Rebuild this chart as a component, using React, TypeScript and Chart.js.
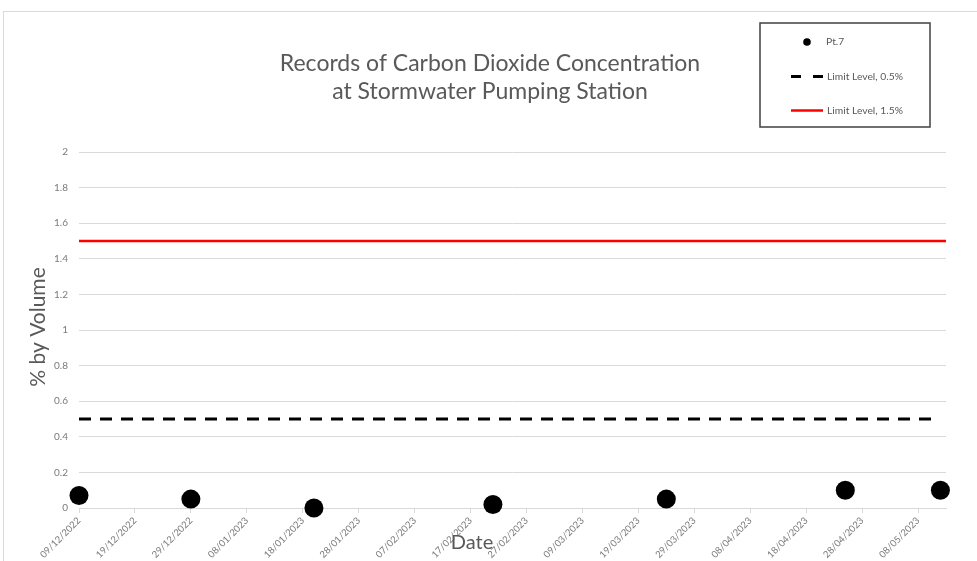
import { useEffect, useRef } from "react";
import { Chart, registerables } from "chart.js";

Chart.register(...registerables);

// ---------- data ----------
const axisStartDate = "09/12/2022";
const axisEndDate = "13/05/2023";
const tickStepDays = 10;

const pt7Dates = ["09/12/2022", "29/12/2022", "20/01/2023", "21/02/2023", "24/03/2023", "25/04/2023", "12/05/2023"];
const pt7Values = [0.07, 0.05, 0, 0.02, 0.05, 0.1, 0.1];

const limit05Dates = ["09/12/2022", "11/05/2023"];
const limit05Values = [0.5, 0.5];

const limit15Dates = ["09/12/2022", "13/05/2023"];
const limit15Values = [1.5, 1.5];

const yMin = 0;
const yMax = 2;
const yStep = 0.2;

const titleLines = ["Records of Carbon Dioxide Concentration", "at Stormwater Pumping Station"];
const yTitle = "% by Volume";
const xTitle = "Date";
const seriesLabels = ["Pt.7", "Limit Level, 0.5%", "Limit Level, 1.5%"];

// ---------- helpers ----------
const DAY = 86400000;
function parseDate(s: string): number {
  const [d, m, y] = s.split("/").map(Number);
  return Date.UTC(y, m - 1, d);
}
const base = parseDate(axisStartDate);
function toDay(s: string): number {
  return Math.round((parseDate(s) - base) / DAY);
}
function fmtDay(n: number): string {
  const dt = new Date(base + n * DAY);
  const dd = String(dt.getUTCDate()).padStart(2, "0");
  const mm = String(dt.getUTCMonth() + 1).padStart(2, "0");
  return `${dd}/${mm}/${dt.getUTCFullYear()}`;
}

const FONT = "Lato, 'Open Sans', sans-serif";
const TEXT = "#595959";

// canvas origin is at page (4,12)
const OX = 4;
const OY = 12;

const overlayPlugin = {
  id: "overlay",
  afterDraw(chart: any) {
    const ctx = chart.ctx as CanvasRenderingContext2D;
    ctx.save();
    // title
    ctx.fillStyle = TEXT;
    ctx.font = `23px ${FONT}`;
    ctx.textAlign = "center";
    ctx.textBaseline = "middle";
    ctx.fillText(titleLines[0], 490 - OX, 64 - OY);
    ctx.fillText(titleLines[1], 490 - OX, 92 - OY);

    // y title
    ctx.save();
    ctx.translate(38 - OX, 327 - OY);
    ctx.rotate(-Math.PI / 2);
    ctx.font = `21px ${FONT}`;
    ctx.fillText(yTitle, 0, 0);
    ctx.restore();

    // x title
    ctx.font = `20px ${FONT}`;
    ctx.fillText(xTitle, 472 - OX, 543 - OY);

    // legend box
    const bx = 760 - OX, by = 23 - OY, bw = 170, bh = 104;
    ctx.fillStyle = "#ffffff";
    ctx.fillRect(bx, by, bw, bh);
    ctx.strokeStyle = "#404040";
    ctx.lineWidth = 1.5;
    ctx.strokeRect(bx, by, bw, bh);

    ctx.font = `10.3px ${FONT}`;
    ctx.textAlign = "left";
    ctx.fillStyle = TEXT;

    // Pt.7
    ctx.beginPath();
    ctx.fillStyle = "#000000";
    ctx.arc(807 - OX, 42 - OY, 3.8, 0, Math.PI * 2);
    ctx.fill();
    ctx.fillStyle = TEXT;
    ctx.fillText(seriesLabels[0], 826 - OX, 42 - OY);

    // dashed
    ctx.strokeStyle = "#000000";
    ctx.lineWidth = 3;
    ctx.beginPath();
    ctx.moveTo(791 - OX, 76.5 - OY);
    ctx.lineTo(801 - OX, 76.5 - OY);
    ctx.moveTo(813 - OX, 76.5 - OY);
    ctx.lineTo(823 - OX, 76.5 - OY);
    ctx.stroke();
    ctx.fillText(seriesLabels[1], 827 - OX, 76.5 - OY);

    // red
    ctx.strokeStyle = "#ff0000";
    ctx.lineWidth = 2.5;
    ctx.beginPath();
    ctx.moveTo(791 - OX, 110.5 - OY);
    ctx.lineTo(823 - OX, 110.5 - OY);
    ctx.stroke();
    ctx.fillText(seriesLabels[2], 827 - OX, 110.5 - OY);

    ctx.restore();
  },
};

export default function App() {
  const ref = useRef<HTMLCanvasElement>(null);

  useEffect(() => {
    if (!ref.current) return;
    const chart = new Chart(ref.current, {
      type: "scatter",
      data: {
        datasets: [
          {
            label: seriesLabels[0],
            data: pt7Dates.map((d, i) => ({ x: toDay(d), y: pt7Values[i] })),
            backgroundColor: "#000000",
            borderWidth: 0,
            pointRadius: 9.5,
            showLine: false,
            clip: false as any,
          },
          {
            label: seriesLabels[1],
            data: limit05Dates.map((d, i) => ({ x: toDay(d), y: limit05Values[i] })),
            showLine: true,
            borderColor: "#000000",
            borderWidth: 3,
            borderDash: [12, 9],
            borderCapStyle: "butt",
            pointRadius: 0,
          },
          {
            label: seriesLabels[2],
            data: limit15Dates.map((d, i) => ({ x: toDay(d), y: limit15Values[i] })),
            showLine: true,
            borderColor: "#ff0000",
            borderWidth: 2.5,
            pointRadius: 0,
          },
        ],
      },
      options: {
        animation: false,
        responsive: true,
        maintainAspectRatio: false,
        layout: { padding: { left: 0, top: 140, right: 48, bottom: 0 } },
        plugins: {
          legend: { display: false },
          title: { display: false },
          tooltip: { enabled: false },
        },
        scales: {
          x: {
            type: "linear",
            min: 0,
            max: toDay(axisEndDate),
            afterFit: (s: any) => {
              s.height = 74;
            },
            ticks: {
              stepSize: tickStepDays,
              includeBounds: false,
              autoSkip: false,
              maxRotation: 45,
              minRotation: 45,
              padding: 2,
              color: "#7a7a7a",
              font: { family: FONT, size: 9.5 },
              callback: (v: any) => fmtDay(Number(v)),
            },
            grid: {
              drawOnChartArea: false,
              drawTicks: true,
              tickLength: 5,
              color: "#d9d9d9",
            },
            border: { display: true, color: "#d9d9d9", width: 1 },
          },
          y: {
            min: yMin,
            max: yMax,
            afterFit: (s: any) => {
              s.width = 75;
            },
            ticks: {
              stepSize: yStep,
              padding: 11,
              color: "#7a7a7a",
              font: { family: FONT, size: 10 },
              callback: (v: any) => String(Math.round(Number(v) * 10) / 10),
            },
            grid: { color: "#d9d9d9", drawTicks: false },
            border: { display: false },
          },
        },
      },
      plugins: [overlayPlugin],
    });
    return () => chart.destroy();
  }, []);

  return (
    <div
      style={{
        position: "fixed",
        left: 3,
        top: 11,
        width: 990,
        height: 570,
        border: "1px solid #d9d9d9",
        background: "#ffffff",
      }}
    >
      <canvas ref={ref} />
    </div>
  );
}
